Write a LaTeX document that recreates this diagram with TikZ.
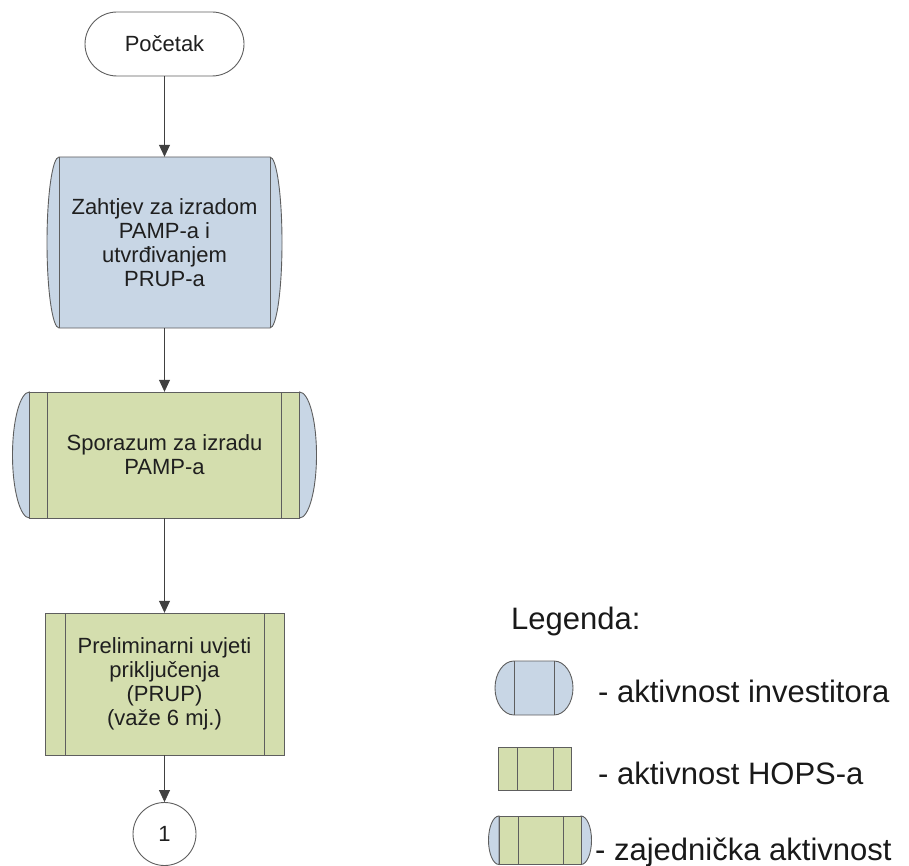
\documentclass[tikz,border=0pt]{standalone}
\usepackage{fontspec}
\setmainfont{Liberation Sans}
\usetikzlibrary{arrows.meta,shapes.misc}
\definecolor{invblue}{HTML}{C8D6E5}
\definecolor{hopsgreen}{HTML}{D4DEAE}
\definecolor{edgegray}{HTML}{5E5E5E}
\tikzset{
  outl/.style={draw=edgegray, line width=0.9pt},
  boxtext/.style={align=center, font=\fontsize{22}{24}\selectfont, inner sep=0pt, text=black!88},
  legtext/.style={anchor=base west, font=\fontsize{31}{36}\selectfont, inner sep=0pt, text=black!90},
  flow/.style={draw=black!75, line width=0.8pt, -{Triangle[width=11pt,length=12pt]}},
}
% investor shape: x1 x2 y1 y2 bulge
\newcommand\invshape[5]{%
  \path[outl, fill=invblue] (#1,-#3) -- (#2,-#3)
    arc[start angle=90,end angle=-90,x radius=#5pt,y radius={(#4pt-#3pt)/2}]
    -- (#1,-#4)
    arc[start angle=270,end angle=90,x radius=#5pt,y radius={(#4pt-#3pt)/2}] -- cycle;
  \draw[outl] (#1,-#3) -- (#1,-#4) (#2,-#3) -- (#2,-#4);
}
% HOPS shape: x1 x2 y1 y2 innerL innerR
\newcommand\hopsshape[6]{%
  \path[outl, fill=hopsgreen] (#1,-#3) rectangle (#2,-#4);
  \draw[outl] (#5,-#3) -- (#5,-#4) (#6,-#3) -- (#6,-#4);
}
% joint shape: x1 x2 y1 y2 innerL innerR bulge
\newcommand\jointshape[7]{%
  \path[outl, fill=invblue] (#1,-#3)
    arc[start angle=90,end angle=270,x radius=#7pt,y radius={(#4pt-#3pt)/2}] -- cycle;
  \path[outl, fill=invblue] (#2,-#3)
    arc[start angle=90,end angle=-90,x radius=#7pt,y radius={(#4pt-#3pt)/2}] -- cycle;
  \hopsshape{#1}{#2}{#3}{#4}{#5}{#6}
}
\begin{document}
\begin{tikzpicture}[x=1pt,y=1pt]
\useasboundingbox (0,0) rectangle (909,-866);

% shapes
\invshape{59}{270}{157}{328}{12}
\jointshape{29.5}{299.5}{392}{518}{47.5}{281.5}{17}
\hopsshape{45}{284}{613}{755}{65}{264}

% flow nodes
\node[outl, rounded rectangle, minimum width=159pt, minimum height=64pt, boxtext]
  (start) at (164.5,-44) {Početak};
\node[boxtext, minimum width=211pt, minimum height=171pt] (zahtjev) at (164.5,-242.5)
  {Zahtjev za izradom\\PAMP-a i\\utvrđivanjem\\PRUP-a};
\node[boxtext, minimum width=270pt, minimum height=126pt] (sporazum) at (164.5,-455)
  {Sporazum za izradu\\PAMP-a};
\node[boxtext, minimum width=239pt, minimum height=142pt] (prup) at (164.5,-684)
  {Preliminarni uvjeti\\priključenja\\(PRUP)\\(važe 6 mj.)};
\node[outl, circle, minimum size=63pt, boxtext] (c1) at (164.5,-834) {1};

\draw[flow] (start.south) -- (zahtjev.north);
\draw[flow] (zahtjev.south) -- (sporazum.north);
\draw[flow] (sporazum.south) -- (prup.north);
\draw[flow] (prup.south) -- (c1.north);

% legend
\node[legtext] (leg) at (511,-629) {Legenda:};
\invshape{514}{554}{661}{715}{19}
\hopsshape{498}{571}{747}{790}{517}{553}
\jointshape{499}{581}{816}{864.5}{518}{563}{10.5}
\node[legtext] (l1) at (598,-702) {- aktivnost investitora};
\node[legtext] (l2) at (598,-784) {- aktivnost HOPS-a};
\node[legtext] (l3) at (595,-860) {- zajednička aktivnost};
\end{tikzpicture}
\end{document}
